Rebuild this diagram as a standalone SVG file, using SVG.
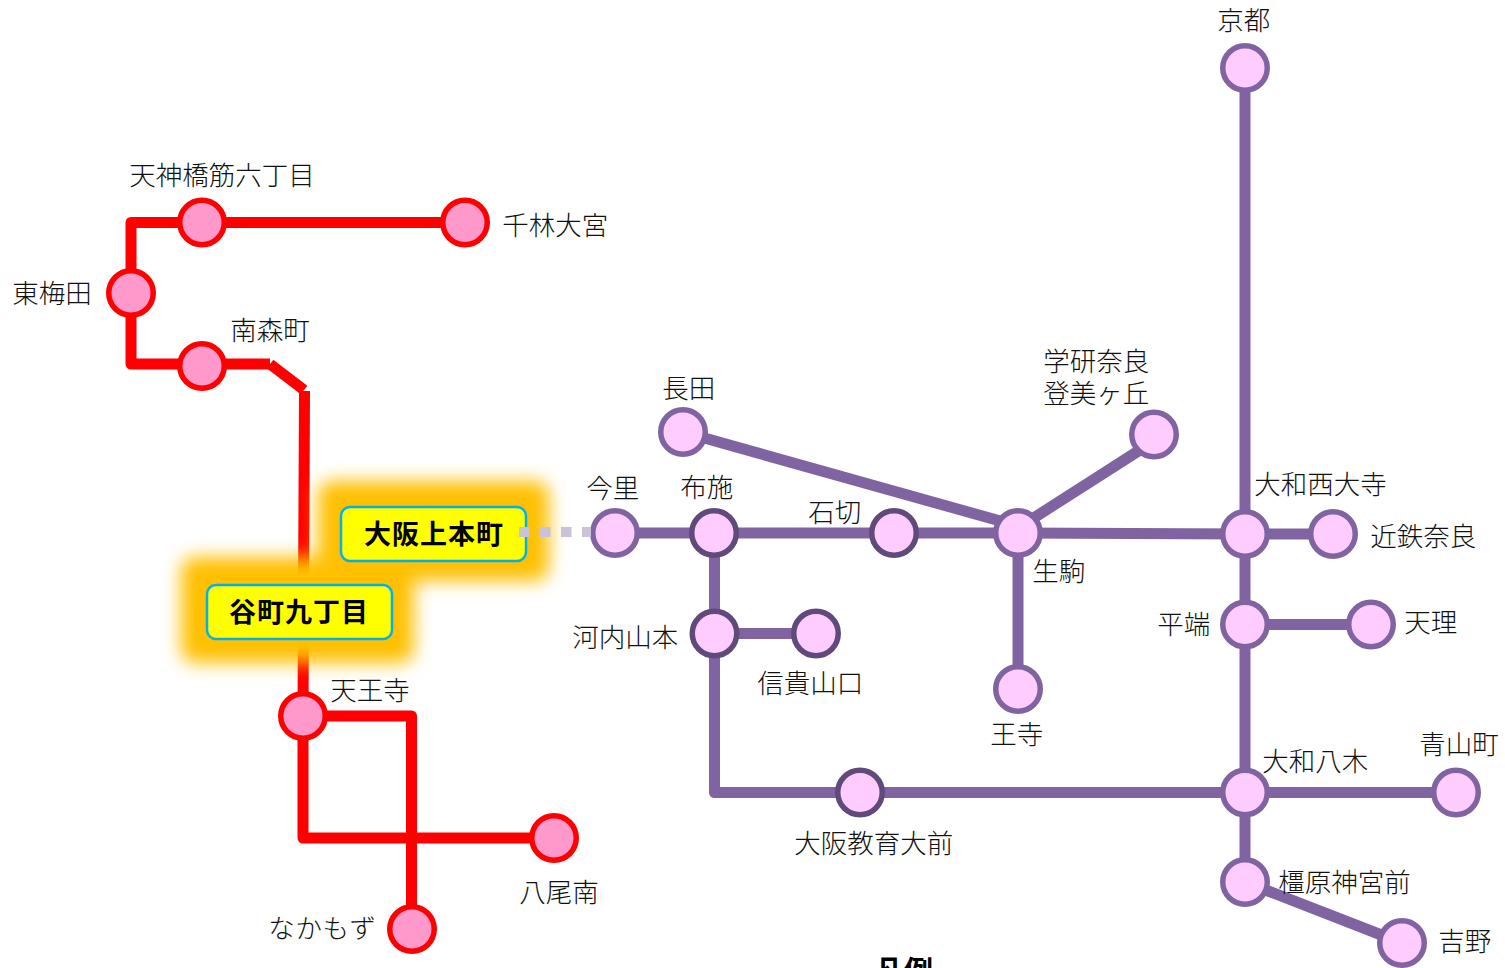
<svg xmlns="http://www.w3.org/2000/svg" width="1505" height="968" viewBox="0 0 1505 968">
<style>
text{font-family:"Noto Sans CJK JP","Noto Sans",sans-serif;font-size:26.500px;font-weight:300;fill:#111;transform:translateX(-.7px)}
.b{font-weight:700;fill:#000;text-anchor:middle;transform:none}
.j{font-size:27px;letter-spacing:1px}
.r,.p,.d{stroke-width:5.500}
.r{fill:#FF99CC;stroke:#FF0000}
.p{fill:#FFCCFF;stroke:#8064A2}
.d{fill:#FFCCFF;stroke:#604A7B}
.lr,.lp{fill:none;stroke-width:11;stroke-linejoin:round}
.lr{stroke:#FF0000}
.lp{stroke:#8064A2}
.box{fill:#FFFF00;stroke:#00B0F0;stroke-width:2.500}
.glow{fill:#FFC000;filter:url(#blur)}
</style>
<defs><filter id="blur" x="-30%" y="-60%" width="160%" height="220%"><feGaussianBlur stdDeviation="9"/></filter></defs>
<g id="connectors">
<path class="lr" d="M465 222.500H131V364H270"/>
<path class="lr" d="M270 364L304 390"/>
<path class="lr" d="M304.500 391L303 716"/>
<path class="lr" d="M303 716V838H554"/>
<path class="lr" d="M303 716H411.500V929"/>
<path class="lp" d="M1245 68V882"/>
<path class="lp" d="M615 533H1018L1245 534H1333"/>
<path class="lp" d="M683 432L1018 526"/>
<path class="lp" d="M1154 441L1018 528"/>
<path class="lp" d="M1018 533V689"/>
<path class="lp" d="M1245 624.500H1371"/>
<path class="lp" d="M714.500 533V792.500H1456"/>
<path class="lp" d="M714 633.500H816"/>
<path class="lp" d="M1245 882L1402 943"/>
</g>
<g id="n1"><circle class="r" cx="202" cy="222.500" r="22.250"/><text x="130" y="185">天神橋筋六丁目</text></g>
<g id="n2"><circle class="r" cx="465" cy="222.500" r="22.250"/><text x="503" y="235">千林大宮</text></g>
<g id="n3"><circle class="r" cx="131" cy="293" r="22.250"/><text x="13" y="303">東梅田</text></g>
<g id="n4"><circle class="r" cx="202" cy="366" r="22.250"/><text x="231" y="340">南森町</text></g>
<g id="n5"><circle class="r" cx="303" cy="716" r="22.250"/><text x="331" y="700">天王寺</text></g>
<g id="n6"><circle class="r" cx="554" cy="838" r="22.250"/><text x="520" y="902">八尾南</text></g>
<g id="n7"><circle class="r" cx="412" cy="929" r="22.250"/><text x="269" y="938" style="letter-spacing:.6px">なかもず</text></g>
<g id="n8"><circle class="p" cx="615" cy="533" r="22.250"/><text x="587" y="498">今里</text></g>
<g id="n9"><circle class="d" cx="714" cy="533" r="22.250"/><text x="681" y="497">布施</text></g>
<g id="n10"><circle class="d" cx="894" cy="533" r="22.250"/><text x="809" y="522">石切</text></g>
<g id="n11"><circle class="p" cx="1018" cy="533" r="22.250"/><text x="1033" y="581">生駒</text></g>
<g id="n12"><circle class="p" cx="1245" cy="534" r="22.250"/><text x="1255" y="494">大和西大寺</text></g>
<g id="n13"><circle class="p" cx="1333" cy="534" r="22.250"/><text x="1371" y="546">近鉄奈良</text></g>
<g id="n14"><circle class="p" cx="1245" cy="624.500" r="22.250"/><text x="1158" y="634">平端</text></g>
<g id="n15"><circle class="p" cx="1371" cy="624.500" r="22.250"/><text x="1405" y="632">天理</text></g>
<g id="n16"><circle class="p" cx="1245" cy="792.500" r="22.250"/><text x="1263" y="771">大和八木</text></g>
<g id="n17"><circle class="p" cx="1456" cy="792.500" r="22.250"/><text x="1420" y="754">青山町</text></g>
<g id="n18"><circle class="p" cx="1245" cy="882" r="22.250"/><text x="1279" y="892">橿原神宮前</text></g>
<g id="n19"><circle class="p" cx="1402" cy="943" r="22.250"/><text x="1439" y="951">吉野</text></g>
<g id="n20"><circle class="p" cx="1245" cy="68" r="22.250"/><text x="1218" y="30">京都</text></g>
<g id="n21"><circle class="p" cx="683" cy="432" r="22.250"/><text x="663" y="398">長田</text></g>
<g id="n22"><circle class="p" cx="1154" cy="434.500" r="22.250"/><text x="1044" y="371">学研奈良</text><text x="1044" y="403">登美ヶ丘</text></g>
<g id="n23"><circle class="p" cx="1018" cy="689" r="22.250"/><text x="991" y="744">王寺</text></g>
<g id="n24"><circle class="d" cx="714.500" cy="633.500" r="22.250"/><text x="573" y="647">河内山本</text></g>
<g id="n25"><circle class="d" cx="816" cy="633.500" r="22.250"/><text x="758" y="693">信貴山口</text></g>
<g id="n26"><circle class="d" cx="860" cy="792.500" r="22.250"/><text x="795" y="853">大阪教育大前</text></g>
<g id="n27"><rect class="glow" x="318" y="481" width="231" height="100" rx="14"/></g>
<g id="n28"><rect class="glow" x="181" y="557" width="233" height="106" rx="14"/></g>
<g id="n29"><rect class="box" x="341" y="507" width="185" height="54" rx="9"/><text class="b j" x="434" y="544">大阪上本町</text></g>
<g id="n30"><rect class="box" x="207" y="585" width="185" height="54" rx="9"/><text class="b j" x="299" y="622">谷町九丁目</text></g>
<path id="link" d="M519 532H591" fill="none" stroke="#CCC1DA" stroke-width="10" stroke-dasharray="10.500 10.500"/>
<text class="b" x="904" y="982" style="font-size:29px">凡例</text>
</svg>
